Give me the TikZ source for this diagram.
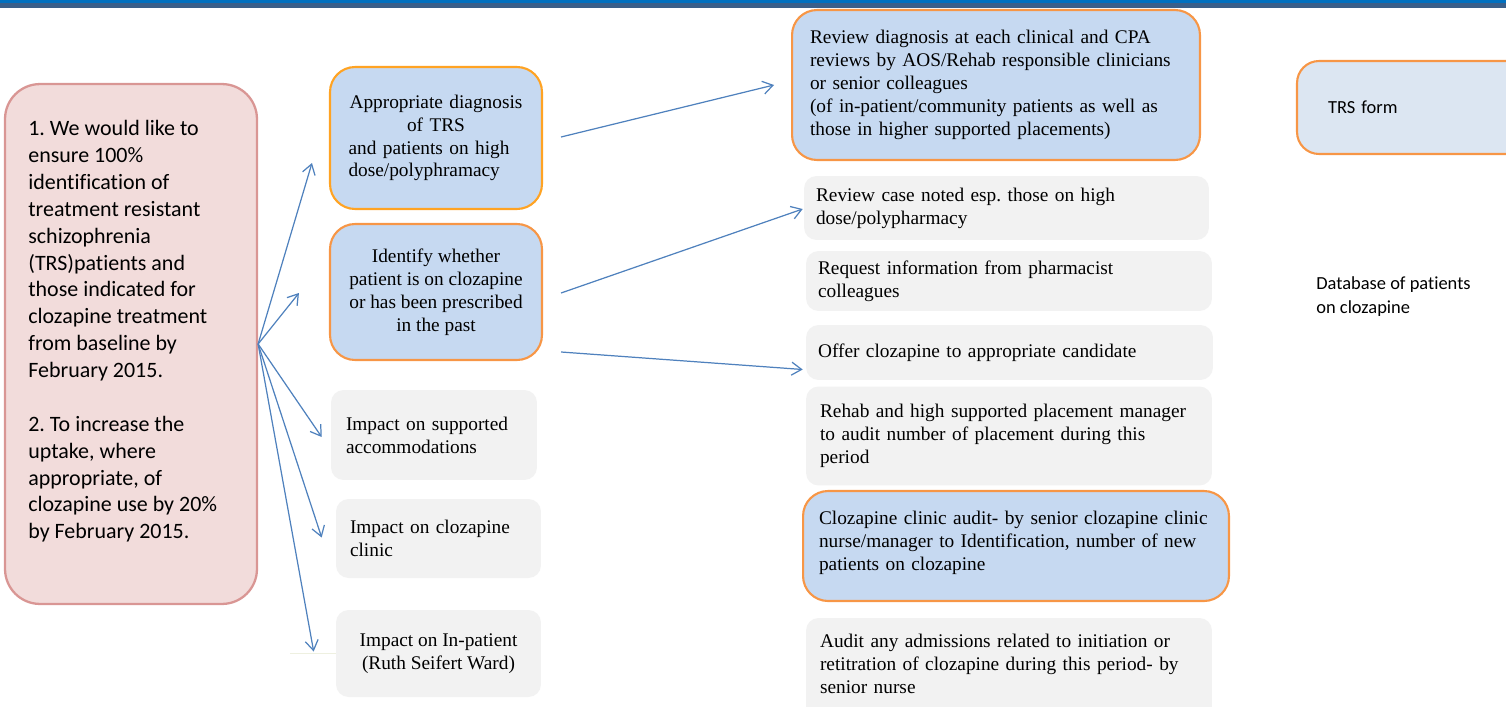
\documentclass[tikz,border=0pt]{standalone}
\usepackage{fontspec}
\setmainfont{Liberation Serif}
\newfontfamily\calibri[Ligatures=NoCommon]{Carlito}
\usepackage{xcolor}
\usepackage{tikz}
\usetikzlibrary{arrows.meta, positioning, calc}
\frenchspacing

\definecolor{goalFill}{HTML}{F2DCDB}
\definecolor{goalLine}{HTML}{D99694}
\definecolor{stepFill}{HTML}{C6D9F1}
\definecolor{stepLine}{HTML}{F79646}
\definecolor{stepLineB}{HTML}{FFA323}
\definecolor{greyFill}{HTML}{F2F2F2}
\definecolor{formFill}{HTML}{DCE6F2}
\definecolor{arrowBlue}{HTML}{4F81BD}
\definecolor{barBlue}{HTML}{0070C0}
\definecolor{barDark}{HTML}{3A5F8A}
\definecolor{stubLine}{HTML}{EEF0E0}

\begin{document}
\begin{tikzpicture}[x=0.02cm, y=-0.02cm,
    every node/.style={font=\fontsize{11}{13}\selectfont},
    goalbox/.style={draw=goalLine, fill=goalFill, line width=1.3pt, rounded corners=0.7cm},
    bluebox/.style={draw=stepLine, fill=stepFill, line width=1.2pt, rounded corners=0.5cm},
    greybox/.style={fill=greyFill, rounded corners=0.25cm},
    link/.style={-{Straight Barb[length=2mm, width=2.6mm]}, arrowBlue, line width=0.7pt}]

    \useasboundingbox (0,0) rectangle (1506,706);
    \clip (0,0) rectangle (1506,706);

    % Top bar
    \fill[barBlue] (0,0) rectangle (1506,3);
    \fill[barDark] (0,3) rectangle (1506,8);

    % Aim
    \node[goalbox, minimum width=5.04cm, minimum height=10.4cm] (goal) at (131,344) {};
    \node[anchor=north west, inner sep=0pt, align=left,
          font=\calibri\fontsize{12.5}{15.3}\selectfont] (goaltxt) at (28,120)
        {1. We would like to\\ ensure 100\%\\ identification of\\ treatment resistant\\ schizophrenia\\
         (TRS)patients and\\ those indicated for\\ clozapine treatment\\ from baseline by\\ February 2015.\\[15.3pt]
         2. To increase the\\ uptake, where\\ appropriate, of\\ clozapine use by 20\%\\ by February 2015.};

    % Primary drivers
    \node[bluebox, draw=stepLineB, minimum width=4.24cm, minimum height=2.84cm, text width=3.5cm, align=left] (diag) at (436,138)
        {\makebox[\linewidth][c]{Appropriate diagnosis}\\ \makebox[\linewidth][c]{of TRS}\\ and patients on high\\ dose/polyphramacy};
    \node[bluebox, minimum width=4.24cm, minimum height=2.72cm, align=center] (identify) at (436,292)
        {Identify whether\\ patient is on clozapine\\ or has been prescribed\\ in the past};
    \node[greybox, minimum width=4.12cm, minimum height=1.8cm, text width=3.52cm, inner xsep=0.3cm, align=left] (impSupp) at (434,435)
        {Impact on supported\\ accommodations};
    \node[greybox, minimum width=4.1cm, minimum height=1.58cm, text width=3.54cm, inner xsep=0.28cm, align=left] (impClinic) at (438.5,538.5)
        {Impact on clozapine\\ clinic};
    \node[greybox, minimum width=4.1cm, minimum height=1.74cm, align=center] (impWard) at (438.5,653.5)
        {Impact on In-patient\\ (Ruth Seifert Ward)};
    \draw[stubLine, line width=0.8pt] (impWard.west) -- ++(-46,0) coordinate (wardStub);

    % Change ideas
    \node[bluebox, minimum width=8.16cm, minimum height=3.0cm, text width=7.44cm, inner xsep=0.36cm, align=left] (revDiag) at (996,85)
        {Review diagnosis at each clinical and CPA\\ reviews by AOS/Rehab responsible clinicians\\ or senior colleagues\\
         (of in-patient/community patients as well as\\ those in higher supported placements)};
    \node[greybox, minimum width=8.1cm, minimum height=1.28cm, text width=7.62cm, inner xsep=0.24cm, align=left] (revCase) at (1006.5,208)
        {Review case noted esp. those on high\\ dose/polypharmacy};
    \node[greybox, minimum width=8.12cm, minimum height=1.2cm, text width=7.64cm, inner xsep=0.24cm, align=left] (reqInfo) at (1009,281)
        {Request information from pharmacist\\ colleagues};
    \node[greybox, minimum width=8.14cm, minimum height=1.1cm, text width=7.66cm, inner xsep=0.24cm, align=left] (offer) at (1009.5,352.5)
        {Offer clozapine to appropriate candidate};
    \node[greybox, minimum width=8.12cm, minimum height=1.98cm, text width=7.56cm, inner xsep=0.28cm, align=left] (rehab) at (1009,436)
        {Rehab and high supported placement manager\\ to audit number of placement during this\\ period};
    \node[bluebox, minimum width=8.52cm, minimum height=2.2cm, text width=7.88cm, inner xsep=0.32cm, align=left] (clinAudit) at (1016,546)
        {Clozapine clinic audit- by senior clozapine clinic\\ nurse/manager to Identification, number of new\\ patients on clozapine\\[-7pt]\mbox{}};
    \node[greybox, minimum width=8.12cm, minimum height=2.04cm, text width=7.56cm, inner xsep=0.28cm, align=left] (admAudit) at (1009,669)
        {Audit any admissions related to initiation or\\ retitration of clozapine during this period- by\\ senior nurse\\[-7pt]\mbox{}};

    % Measures
    \node[bluebox, fill=formFill, rounded corners=0.44cm, minimum width=4.86cm, minimum height=1.86cm, text width=3.62cm,
          inner xsep=0.62cm, align=left, font=\calibri\fontsize{10.5}{13.6}\selectfont] (trsForm) at (1418.5,107.5) {TRS form};
    \node[anchor=west, inner sep=0pt, align=left, font=\calibri\fontsize{10.5}{13.6}\selectfont] (database) at (1316,297)
        {Database of patients\\ on clozapine};

    % Arrows
    \draw[link] (goal.east) -- ($(diag.west)+(-17,25)$);
    \draw[link] (goal.east) -- ($(identify.west)+(-30,1)$);
    \draw[link] (goal.east) -- ($(impSupp.west)+(-9,2)$);
    \draw[link] (goal.east) -- ($(impClinic.west)+(-14,-1)$);
    \draw[link] (goal.east) -- ($(impWard.west)+(-22,-2)$);
    \draw[link] ($(diag.east)+(18,-1)$) -- ($(revDiag.west)+(-17,0)$);
    \draw[link] ($(identify.east)+(18,1)$) -- ($(revCase.west)+(-1,1)$);
    \draw[link] ($(identify.east)+(18,60)$) -- ($(offer.west)+(-3,17)$);
\end{tikzpicture}
\end{document}
